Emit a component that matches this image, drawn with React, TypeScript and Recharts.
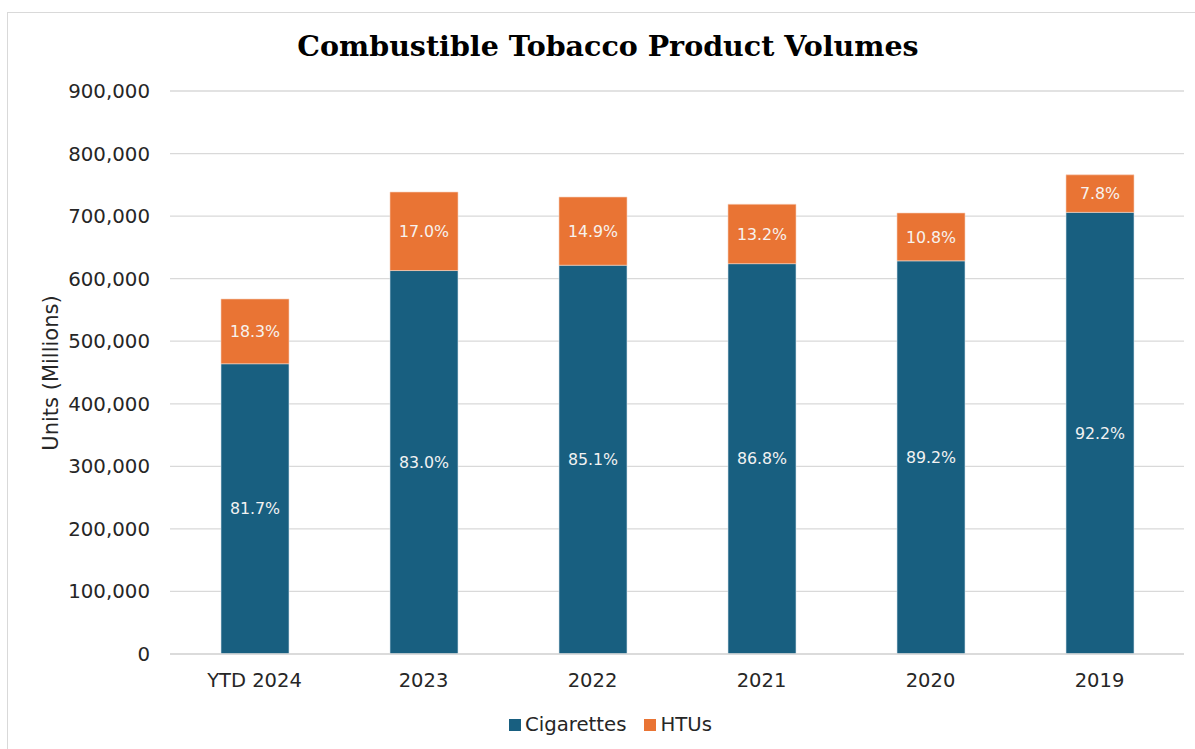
import { Bar, BarChart, CartesianGrid, LabelList, XAxis, YAxis } from 'recharts'

const years = ['YTD 2024', '2023', '2022', '2021', '2020', '2019']
const cigarettes = [464000, 613000, 621500, 624000, 628500, 706000]
const htus = [103500, 125500, 109000, 95000, 76500, 60000]
const cigaretteShares = ['81.7%', '83.0%', '85.1%', '86.8%', '89.2%', '92.2%']
const htuShares = ['18.3%', '17.0%', '14.9%', '13.2%', '10.8%', '7.8%']
const yTicks = [0, 100000, 200000, 300000, 400000, 500000, 600000, 700000, 800000, 900000]

const TEAL = '#185f80'
const ORANGE = '#e97434'
const TEXT = '#262626'
const FONT = '"DejaVu Sans", Verdana, sans-serif'

const data = years.map((year, i) => ({
  year,
  cigarettes: cigarettes[i],
  htus: htus[i],
  cigShare: cigaretteShares[i],
  htuShare: htuShares[i],
}))

const legendItems = [
  { label: 'Cigarettes', color: TEAL },
  { label: 'HTUs', color: ORANGE },
]

export default function App() {
  return (
    <div
      style={{
        position: 'fixed',
        left: 0,
        top: 0,
        width: 1195,
        height: 749,
        background: '#fff',
        overflow: 'hidden',
      }}
    >
      <div
        style={{
          position: 'absolute',
          left: 7,
          top: 12,
          width: 1300,
          height: 800,
          borderLeft: '1.5px solid #d9d9d9',
          borderTop: '1.5px solid #d9d9d9',
        }}
      />
      <div
        style={{
          position: 'absolute',
          left: 0,
          width: 1216,
          top: 29,
          textAlign: 'center',
          fontFamily: '"DejaVu Serif", Georgia, serif',
          fontWeight: 'bold',
          fontSize: 28.5,
          color: '#000',
        }}
      >
        Combustible Tobacco Product Volumes
      </div>
      <div
        style={{
          position: 'absolute',
          left: 51,
          top: 373,
          transform: 'translate(-50%, -50%) rotate(-90deg)',
          whiteSpace: 'nowrap',
          fontFamily: FONT,
          fontSize: 21,
          color: TEXT,
        }}
      >
        Units (Millions)
      </div>
      <div style={{ position: 'absolute', left: 0, top: 0 }}>
        <BarChart width={1195} height={749} data={data} margin={{ top: 91, right: 11, left: 0, bottom: 65 }}>
          <CartesianGrid vertical={false} stroke="#d9d9d9" strokeWidth={1.3} />
          <XAxis
            dataKey="year"
            height={30}
            tickLine={false}
            axisLine={{ stroke: '#d9d9d9', strokeWidth: 1.5 }}
            tickSize={0}
            tickMargin={19}
            tick={{ fill: TEXT, fontSize: 19.5, fontFamily: FONT }}
          />
          <YAxis
            width={170}
            domain={[0, 900000]}
            ticks={yTicks}
            interval={0}
            tickLine={false}
            axisLine={false}
            tickSize={0}
            tickMargin={20}
            tickFormatter={(v: number) => v.toLocaleString('en-US')}
            tick={{ fill: TEXT, fontSize: 19.8, fontFamily: FONT }}
          />
          <Bar
            dataKey="cigarettes"
            name="Cigarettes"
            stackId="a"
            fill={TEAL}
            stroke="#d6e4ec"
            strokeWidth={0.6}
            barSize={68}
            isAnimationActive={false}
          >
            <LabelList dataKey="cigShare" position="center" fill="#f2f2f2" fontSize={15.8} fontFamily={FONT} />
          </Bar>
          <Bar
            dataKey="htus"
            name="HTUs"
            stackId="a"
            fill={ORANGE}
            stroke="#f6d2bd"
            strokeWidth={0.6}
            barSize={68}
            isAnimationActive={false}
          >
            <LabelList dataKey="htuShare" position="center" fill="#f7f2ee" fontSize={15.8} fontFamily={FONT} />
          </Bar>
        </BarChart>
      </div>
      <div
        style={{
          position: 'absolute',
          left: 0,
          top: 713,
          width: 1195,
          display: 'flex',
          justifyContent: 'center',
          alignItems: 'center',
          fontFamily: FONT,
          fontSize: 19.7,
          color: TEXT,
          paddingLeft: 44,
          boxSizing: 'border-box',
        }}
      >
        {legendItems.map((item) => (
          <span key={item.label} style={{ display: 'flex', alignItems: 'center', marginRight: 18 }}>
            <span style={{ width: 12, height: 12, background: item.color, marginRight: 4 }} />
            {item.label}
          </span>
        ))}
      </div>
    </div>
  )
}
